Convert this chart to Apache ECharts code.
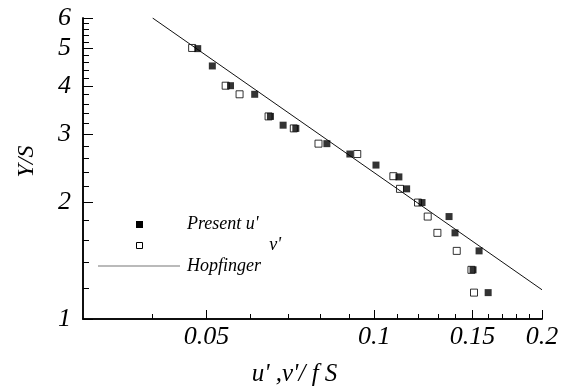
<!DOCTYPE html>
<html><head><meta charset="utf-8">
<script src="https://cdn.jsdelivr.net/npm/echarts@6/dist/echarts.min.js"></script>
<style>html,body{margin:0;padding:0;background:#fff}#c{width:567px;height:387px}</style>
</head><body><div id="c"></div>
<script>
// Present u' (filled squares)
const uX = [0.0482,0.0512,0.0552,0.0610,0.0651,0.0686,0.0723,0.0822,0.0904,0.1007,0.1107,0.1143,0.1218,0.1362,0.1396,0.1542,0.1504,0.1601];
const uY = [5.00,4.51,4.01,3.81,3.34,3.17,3.11,2.84,2.67,2.50,2.33,2.17,2.00,1.84,1.67,1.50,1.34,1.17];
// v' (open squares)
const vX = [0.0471,0.0541,0.0573,0.0646,0.0717,0.0794,0.0932,0.1082,0.1112,0.1198,0.1247,0.1298,0.1406,0.1494,0.1510];
const vY = [5.02,4.01,3.81,3.34,3.11,2.84,2.67,2.34,2.17,2.00,1.84,1.67,1.50,1.34,1.17];
// Hopfinger line
const hopX = [0.04, 0.2];
const hopY = [6.0, 1.19];
// ticks
const xMajor = [0.05, 0.1, 0.15, 0.2];
const xMajorLabels = ['0.05', '0.1', '0.15', '0.2'];
const xMinor = [0.04,0.06,0.07,0.08,0.09,0.11,0.12,0.13,0.14,0.16,0.17,0.18,0.19];
const yMajor = [1, 2, 3, 4, 5, 6];
const yMajorLabels = ['1', '2', '3', '4', '5', '6'];
const yMinor = [1.2,1.4,1.6,1.8,2.2,2.4,2.6,2.8,3.2,3.4,3.6,3.8,4.2,4.4,4.6,4.8,5.2,5.4,5.6,5.8];

const X_MIN = 0.03, X_MAX = 0.2, Y_MIN = 1, Y_MAX = 6;
const FONT = 'Liberation Serif';
const TICK = '#000';
function lookup(vals, labels) {
  return function (v) {
    for (let i = 0; i < vals.length; i++) if (Math.abs(vals[i] - v) < 1e-6 * Math.max(1, vals[i])) return labels[i];
    return '';
  };
}
const pair = (xs, ys) => xs.map((x, i) => [x, ys[i]]);

function tickAxis(isX, vals, len) {
  return {
    type: 'log', logBase: 10, position: isX ? 'bottom' : 'left',
    min: isX ? X_MIN : Y_MIN, max: isX ? X_MAX : Y_MAX,
    axisLine: {show: true, onZero: false, lineStyle: {color: '#000', width: 1.5}},
    axisTick: {show: true, inside: true, length: len, customValues: vals, lineStyle: {color: TICK, width: 1}},
    axisLabel: {show: false},
    splitLine: {show: false}
  };
}

const chart = echarts.init(document.getElementById('c'));
const labelStyle = {fontFamily: FONT, fontStyle: 'italic', fontSize: 26, color: '#000'};
chart.setOption({
  animation: false,
  backgroundColor: '#fff',
  grid: {left: 83, top: 18, right: 25, bottom: 68, containLabel: false, outerBoundsMode: 'none'},
  xAxis: [{
    type: 'log', logBase: 10, min: X_MIN, max: X_MAX,
    axisLine: {show: true, onZero: false, lineStyle: {color: '#000', width: 1.5}},
    axisTick: {show: true, inside: true, length: 9, customValues: xMajor, lineStyle: {color: TICK, width: 1}},
    axisLabel: Object.assign({customValues: xMajor, formatter: lookup(xMajor, xMajorLabels), margin: 5}, labelStyle),
    splitLine: {show: false},
    name: "u' ,v'/ f S", nameLocation: 'middle', nameGap: 43,
    nameTextStyle: {fontFamily: FONT, fontStyle: 'italic', fontSize: 25, color: '#000', padding: [0, 36, 0, 0]}
  }, tickAxis(true, xMinor, 5)],
  yAxis: [{
    type: 'log', logBase: 10, min: Y_MIN, max: Y_MAX,
    axisLine: {show: true, onZero: false, lineStyle: {color: '#000', width: 1.5}},
    axisTick: {show: true, inside: true, length: 10, customValues: yMajor, lineStyle: {color: TICK, width: 1}},
    axisLabel: Object.assign({customValues: yMajor, formatter: lookup(yMajor, yMajorLabels), margin: 12}, labelStyle),
    splitLine: {show: false},
    name: 'Y/S', nameLocation: 'middle', nameGap: 44, nameRotate: 90,
    nameTextStyle: {fontFamily: FONT, fontStyle: 'italic', fontSize: 24, color: '#000', padding: [0, 0, 0, 14]}
  }, tickAxis(false, yMinor, 6)],
  series: [{
    name: "v'", type: 'scatter', data: pair(vX, vY), symbol: 'rect', symbolSize: 7,
    itemStyle: {color: '#fff', borderColor: '#000', borderWidth: 1}, z: 2
  }, {
    name: 'Hopfinger', type: 'line', data: pair(hopX, hopY), symbol: 'none',
    lineStyle: {color: '#111', width: 1}, z: 3
  }, {
    name: "Present u'", type: 'scatter', data: pair(uX, uY), symbol: 'rect', symbolSize: 7,
    itemStyle: {color: '#000'}, z: 4
  }],
  graphic: [
    {type: 'rect', shape: {x: 136, y: 221, width: 7, height: 7}, style: {fill: '#000'}},
    {type: 'rect', shape: {x: 136.5, y: 242.5, width: 6, height: 6}, style: {fill: '#fff', stroke: '#000', lineWidth: 1}},
    {type: 'line', shape: {x1: 98, y1: 266, x2: 180, y2: 266}, style: {stroke: '#777', lineWidth: 1.2}},
    {type: 'text', x: 187, y: 224, style: {text: "Present u'", font: 'italic 18px "Liberation Serif"', fill: '#000', textVerticalAlign: 'middle', textAlign: 'left'}},
    {type: 'text', x: 281, y: 245, style: {text: "v'", font: 'italic 18px "Liberation Serif"', fill: '#000', textVerticalAlign: 'middle', textAlign: 'right'}},
    {type: 'text', x: 187, y: 266, style: {text: 'Hopfinger', font: 'italic 18px "Liberation Serif"', fill: '#000', textVerticalAlign: 'middle', textAlign: 'left'}}
  ]
});
</script></body></html>
